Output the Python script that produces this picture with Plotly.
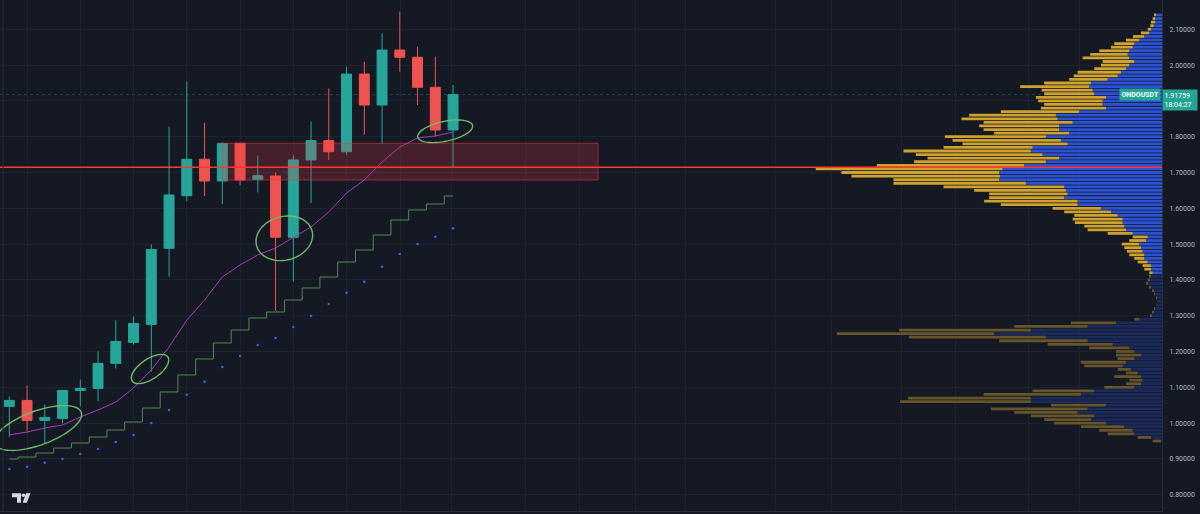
import numpy as np
import plotly.graph_objects as go

# ---------------- data ----------------
candle_idx = list(range(26))
open_ = [1.0467, 1.0634, 1.0076, 1.0131, 1.0913, 1.0969, 1.1667, 1.2254, 1.2757, 1.4883,
         1.6352, 1.7369, 1.6763, 1.7816, 1.6810, 1.6902, 1.5190, 1.7350, 1.7890, 1.7580,
         1.9750, 1.8885, 2.0420, 2.0218, 1.9380, 1.8187]
close = [1.0634, 1.0076, 1.0160, 1.0913, 1.0969, 1.1667, 1.2282, 1.2785, 1.4851, 1.6372,
         1.7369, 1.6763, 1.7807, 1.6790, 1.6910, 1.5190, 1.7350, 1.7890, 1.7580, 1.9750,
         1.8885, 2.0420, 2.0218, 1.9380, 1.8187, 1.91759]
high = [1.0746, 1.1053, 1.0523, 1.0925, 1.1220, 1.2003, 1.2869, 1.2980, 1.4990, 1.8280,
        1.9536, 1.8390, 1.7850, 1.7816, 1.7480, 1.7000, 1.7490, 1.8420, 1.9350, 1.9955,
        2.0095, 2.0890, 2.1490, 2.0514, 2.0235, 1.9444]
low = [0.9620, 0.9768, 0.9433, 0.9994, 1.0467, 1.0606, 1.1527, 1.2198, 1.1436, 1.4090,
       1.6200, 1.6343, 1.6120, 1.6650, 1.6440, 1.3130, 1.3950, 1.6140, 1.7350, 1.7490,
       1.8050, 1.7800, 1.9816, 1.8885, 1.8000, 1.7162]

ma_line = [0.9670, 0.9751, 0.9863, 0.9947, 1.0170, 1.0366, 1.0589, 1.0980, 1.1483, 1.2125,
           1.2880, 1.3438, 1.4081, 1.4416, 1.4696, 1.4891, 1.5184, 1.5478, 1.5897, 1.6427,
           1.6791, 1.7293, 1.7712, 1.7964, 1.8020, 1.8131]
step_line = [0.8997, 0.9053, 0.9165, 0.9304, 0.9444, 0.9612, 0.9807, 1.0031, 1.0422, 1.0869,
             1.1344, 1.1791, 1.2238, 1.2601, 1.2936, 1.3103, 1.3439, 1.3774, 1.4081, 1.4500,
             1.4835, 1.5254, 1.5673, 1.5953, 1.6120, 1.6344]
dots = [0.8718, 0.8782, 0.8894, 0.8997, 0.9137, 0.9277, 0.9472, 0.9668, 1.0003, 1.0366,
        1.0793, 1.1156, 1.1567, 1.1874, 1.2181, 1.2377, 1.2684, 1.2991, 1.3327, 1.3642,
        1.3950, 1.4369, 1.4723, 1.5003, 1.5207, 1.5441]

# volume profile rows (price level, total volume, up volume) - relative units
vp_price = [round(2.14 - 0.01 * k, 2) for k in range(120)]
vp_total = [7, 9.3, 11, 11.7, 14.3, 21, 29, 36, 47.7, 51,
            62.7, 71.7, 79.3, 59.3, 61, 67.7, 84.3, 88.3, 92.7, 117.7,
            141.7, 120.3, 117.7, 126, 123.7, 117.7, 121, 161, 192.7, 200.3,
            178.3, 182.7, 178.3, 167.7, 217, 209.3, 199.3, 218.3, 258.3, 246,
            234.3, 247.7, 285, 346, 320.3, 310.3, 268.3, 268.3, 218.3, 187.7,
            172.7, 172.7, 177.7, 161, 109.3, 97.7, 87.7, 89.3, 87, 77.7,
            74.3, 54.3, 29.3, 32.7, 40.3, 37.7, 35, 32.7, 27.7, 24.3,
            19.3, 17.7, 12.7, 12.7, 14.3, 16, 12.7, 9.3, 7.7, 6,
            5, 5.7, 7.7, 9.3, 11.7, 27.7, 91, 147.7, 262.7, 325,
            252.7, 162.7, 114.3, 72.7, 46, 46, 44.3, 81, 77.7, 44.3,
            36, 47.7, 32.7, 36, 57.7, 129.3, 178.3, 253.7, 261.7, 111,
            171, 147.7, 131, 117.7, 107.7, 81, 62.7, 54.3, 24.3, 9.3]
vp_up = [6, 7, 7, 8.3, 11, 12.7, 17.7, 22.7, 27.7, 29.3,
         32.7, 34.3, 32.7, 27.7, 32.7, 36, 41, 44.3, 54.3, 71,
         72.7, 69.3, 67.7, 56, 59.3, 59.3, 56, 82.7, 106, 104.3,
         89.3, 102.7, 102.7, 92.7, 116, 101, 94.3, 129.3, 131, 119.3,
         102.7, 116, 137.7, 159.3, 162.7, 161.7, 162.7, 136, 97.7, 96,
         94.3, 97.7, 84.3, 84.3, 61, 51, 44.3, 39.3, 39.3, 37.7,
         36, 29.3, 14.3, 16, 22.7, 21, 19.3, 17.7, 17.7, 14.3,
         11, 11, 9.3, 11, 12.7, 14.3, 11, 8.3, 7, 5.7,
         5, 5.7, 7, 8.3, 10.3, 22.7, 46, 74.3, 131, 167.7,
         116, 74.3, 49.3, 32.7, 27.7, 21, 27.7, 36, 39.3, 31,
         24.3, 21, 19.3, 21, 27.7, 67.7, 81, 131, 131, 56,
         74.3, 84.3, 67.7, 71, 56, 37.7, 29.3, 27.7, 11, 1]
vp_down = [round(t - u, 2) for t, u in zip(vp_total, vp_up)]

last_price = close[-1]
symbol = "ONDOUSDT"
countdown = "18:04:27"

# ---------------- styling / layout constants ----------------
W, H = 1200, 514
M_L, M_R, M_T, M_B = 0, 38, 0, 3
PW, PH = W - M_L - M_R, H - M_T - M_B
X_RANGE = [-0.524, 64.94]
Y_RANGE = [0.7545, 2.1818]
SX = PW / (X_RANGE[1] - X_RANGE[0])
SY = PH / (Y_RANGE[1] - Y_RANGE[0])

BG = "#151924"
GRID = "#1d2230"
UP = "#26a69a"
DOWN = "#ef5350"
TEAL_LBL = "#22a595"
VA_LOW = 1.415
VP_WIDTH_FRAC = 0.298

fig = go.Figure()

# volume profile (overlay axis, anchored at the right)
blue_cols = ["#2b52d4" if p >= VA_LOW else "#1b2a5c" for p in vp_price]
yel_cols = ["#cfa12d" if p >= VA_LOW else "#66552a" for p in vp_price]
fig.add_trace(go.Bar(y=vp_price, x=vp_up, orientation="h", base=0, width=0.0078,
                     marker=dict(color=blue_cols, line=dict(width=0)),
                     xaxis="x2", yaxis="y", hoverinfo="skip", showlegend=False))
fig.add_trace(go.Bar(y=vp_price, x=vp_down, orientation="h", base=vp_up, width=0.0078,
                     marker=dict(color=yel_cols, line=dict(width=0)),
                     xaxis="x2", yaxis="y", hoverinfo="skip", showlegend=False))

# step line, dots, MA
fig.add_trace(go.Scatter(x=candle_idx, y=step_line, mode="lines", line_shape="hvh",
                         line=dict(color="#4f8a52", width=1), showlegend=False,
                         hoverinfo="skip"))
fig.add_trace(go.Scatter(x=candle_idx, y=dots, mode="markers",
                         marker=dict(color="#3b5fe0", size=2.6), showlegend=False,
                         hoverinfo="skip"))
fig.add_trace(go.Scatter(x=candle_idx, y=ma_line, mode="lines",
                         line=dict(color="#a23db4", width=1), showlegend=False,
                         hoverinfo="skip"))

# candles
fig.add_trace(go.Candlestick(
    x=candle_idx, open=open_, high=high, low=low, close=close,
    increasing=dict(line=dict(color=UP, width=1), fillcolor=UP),
    decreasing=dict(line=dict(color=DOWN, width=1), fillcolor=DOWN),
    whiskerwidth=0, showlegend=False, hoverinfo="skip"))

shapes = []
# current price dotted line
shapes.append(dict(type="line", xref="x", yref="y", x0=X_RANGE[0], x1=X_RANGE[1],
                   y0=last_price, y1=last_price, layer="below",
                   line=dict(color="rgba(38,166,154,0.35)", width=1, dash="dot")))
# zone rectangle
shapes.append(dict(type="rect", xref="x", yref="y", x0=12, x1=33.17, y0=1.679, y1=1.7816,
                   layer="above", fillcolor="rgba(242,54,69,0.22)",
                   line=dict(color="rgba(242,54,69,0.55)", width=1)))
# horizontal level
shapes.append(dict(type="line", xref="paper", yref="y", x0=0, x1=1, y0=1.7145, y1=1.7145,
                   layer="above", line=dict(color="#ff3a2f", width=1.5)))


def ellipse_path(cx, cy, a_px, b_px, ang_deg, n=90):
    t = np.linspace(0, 2 * np.pi, n)
    th = np.radians(ang_deg)
    dx = a_px * np.cos(t) * np.cos(th) - b_px * np.sin(t) * np.sin(th)
    dy = a_px * np.cos(t) * np.sin(th) + b_px * np.sin(t) * np.cos(th)
    xs = cx + dx / SX
    ys = cy + dy / SY
    return "M " + " L ".join(f"{x:.4f},{y:.5f}" for x, y in zip(xs, ys)) + " Z"


ellipses = [(1.617, 0.9863, 46, 17, 20), (7.927, 1.1511, 21.5, 10, 34),
            (15.493, 1.5162, 28.7, 21.8, 15), (24.557, 1.8151, 28, 9.9, 12)]
for cx, cy, a, b, ang in ellipses:
    shapes.append(dict(type="path", xref="x", yref="y", path=ellipse_path(cx, cy, a, b, ang),
                       layer="above", line=dict(color="#6dbb6b", width=1.4)))


def P(px, py):
    return px / PW, 1 - py / PH


# panel border
shapes.append(dict(type="line", xref="paper", yref="paper", x0=P(3, 0)[0], x1=P(3, 0)[0],
                   y0=0, y1=1, layer="above", line=dict(color="#2a2e39", width=1)))


# TradingView logo
def poly(pts):
    return "M " + " L ".join(f"{P(x, y)[0]:.5f},{P(x, y)[1]:.5f}" for x, y in pts) + " Z"


logo_col = "#d6d8de"
shapes.append(dict(type="path", xref="paper", yref="paper", layer="above",
                   path=poly([(12, 493.3), (21, 493.3), (21, 502.7), (17, 502.7), (17, 497.2), (12, 497.2)]),
                   fillcolor=logo_col, line=dict(width=0)))
cxp, cyp = P(23.4, 495.3)
shapes.append(dict(type="circle", xref="paper", yref="paper", layer="above",
                   x0=cxp - 1.8 / PW, x1=cxp + 1.8 / PW, y0=cyp - 1.8 / PH, y1=cyp + 1.8 / PH,
                   fillcolor=logo_col, line=dict(width=0)))
shapes.append(dict(type="path", xref="paper", yref="paper", layer="above",
                   path=poly([(26, 493.3), (30.5, 493.3), (26.8, 502.7), (22.6, 502.7)]),
                   fillcolor=logo_col, line=dict(width=0)))

annotations = [
    dict(xref="paper", yref="y", x=1, y=last_price, xanchor="right", yanchor="middle",
         xshift=-1, text=f"<b>{symbol}</b>", showarrow=False, bgcolor=TEAL_LBL,
         font=dict(family="Roboto", size=7, color="#ffffff"), borderpad=1.5),
    dict(xref="paper", yref="y", x=1, y=last_price, xanchor="left", yanchor="top",
         yshift=5.5, xshift=0, text=f"{last_price:.5f}<br>{countdown}", showarrow=False,
         bgcolor=TEAL_LBL, align="left", font=dict(family="Roboto", size=7, color="#ffffff"),
         borderpad=1.5, width=31),
]

grid_x = [1, 4, 7, 10, 13, 16, 19, 22.05, 24.92, 29.1, 32.1, 35.25, 38.07, 43.18,
          46.33, 50.28, 53.28, 57.4, 60.3]

fig.update_layout(
    width=W, height=H,
    margin=dict(l=M_L, r=M_R, t=M_T, b=M_B),
    paper_bgcolor=BG, plot_bgcolor=BG,
    barmode="overlay", boxgap=0.2,
    showlegend=False,
    shapes=shapes, annotations=annotations,
    xaxis=dict(range=X_RANGE, rangeslider=dict(visible=False), showticklabels=False,
               tickmode="array", tickvals=grid_x, showgrid=True, gridcolor=GRID, gridwidth=1,
               zeroline=False, showline=True, linecolor="#2a2e39", ticks=""),
    xaxis2=dict(overlaying="x", anchor="y", range=[max(vp_total) / VP_WIDTH_FRAC, 0],
                visible=False, showgrid=False, zeroline=False),
    yaxis=dict(range=Y_RANGE, side="right", tickmode="linear", tick0=0, dtick=0.1,
               tickformat=".5f", showgrid=True, gridcolor=GRID, gridwidth=1, zeroline=False,
               showline=True, linecolor="#2a2e39", ticks="", ticklabelstandoff=5,
               tickfont=dict(family="Roboto", size=7, color="#b2b5be")),
)

fig.write_html("out.html", config={"displayModeBar": False},
               post_script="document.body.style.margin='0px';"
                           "document.body.style.background='" + BG + "';"
                           "document.body.style.overflow='hidden';")
